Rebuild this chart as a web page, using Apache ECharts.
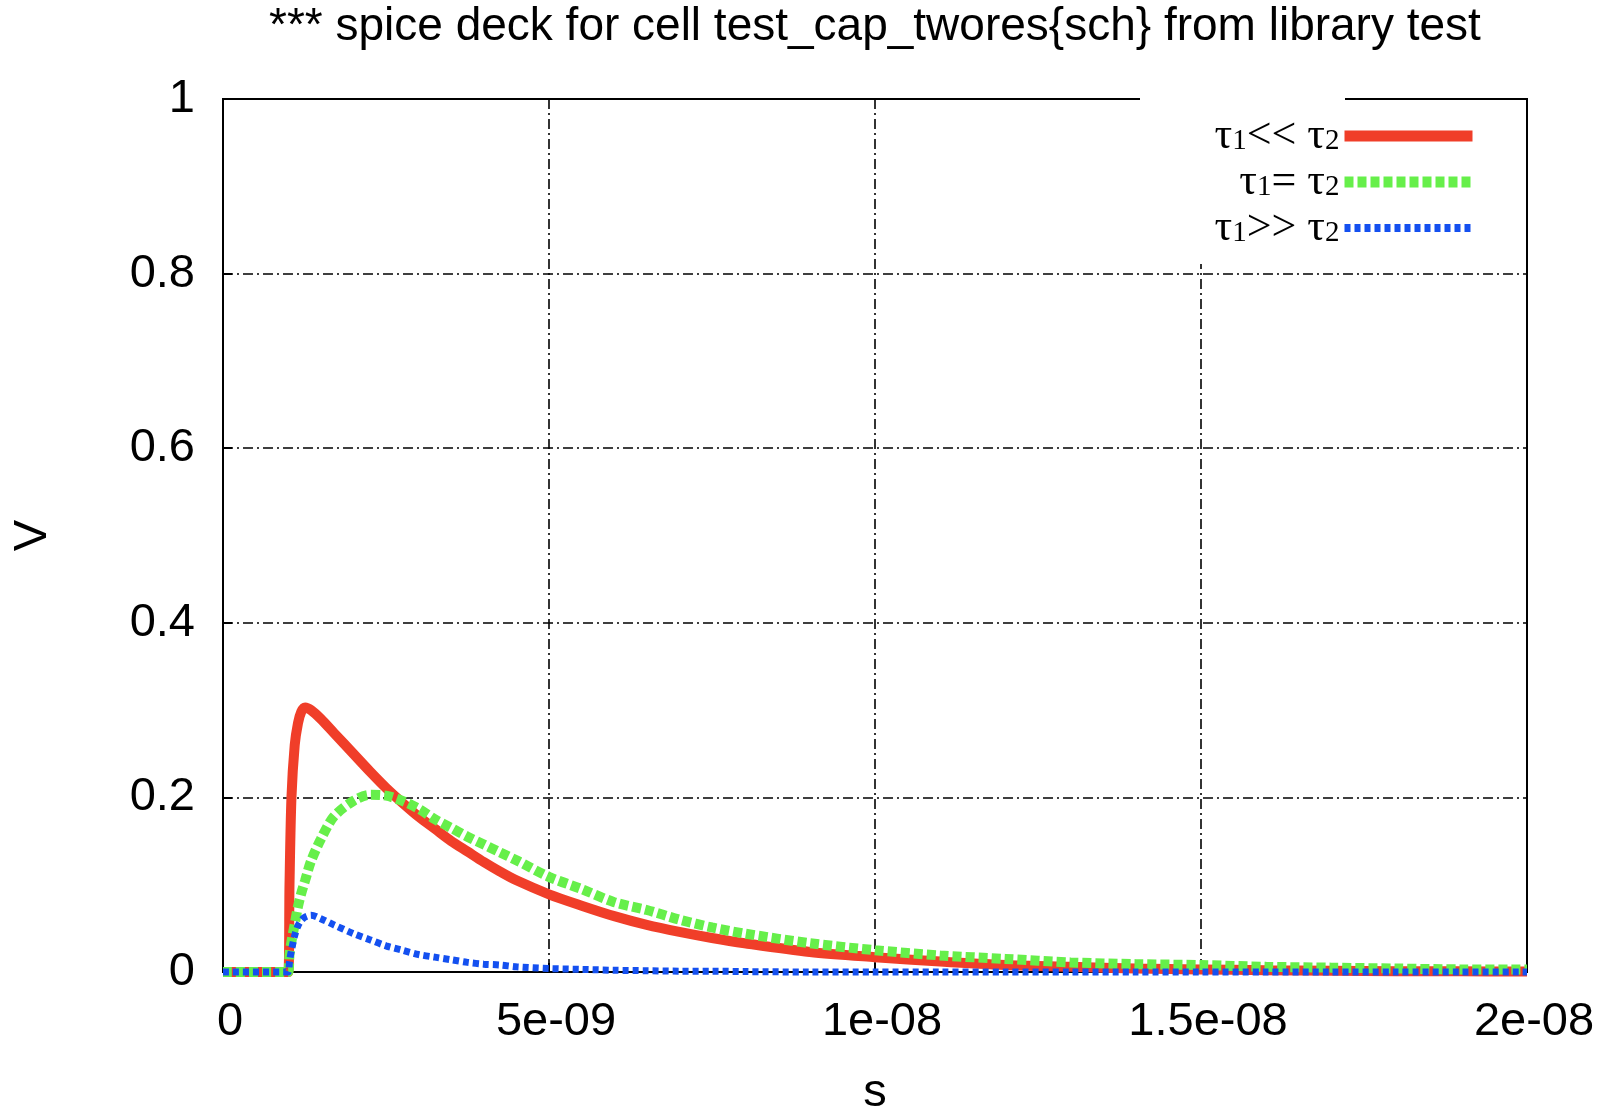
<!DOCTYPE html>
<html>
<head>
<meta charset="utf-8">
<title>spice deck</title>
<script src="https://cdn.jsdelivr.net/npm/echarts@6/dist/echarts.min.js"></script>
<style>
  html, body { margin: 0; padding: 0; background: #fff; }
  #chart { width: 1604px; height: 1106px; }
</style>
</head>
<body>
<div id="chart"></div>
<script>
// time samples in ns (converted to seconds below)
var timeNs = [0, 0.95, 1.0, 1.02, 1.05, 1.1, 1.15, 1.2, 1.26, 1.35, 1.5, 1.7, 2.0, 2.25, 2.5, 2.75,
    3.0, 3.25, 3.5, 3.75, 4.0, 4.25, 4.5, 5.0, 5.5, 6.0, 6.5, 7.0, 7.5, 8.0, 9.0, 10,
    11, 12, 13, 14, 15, 16, 17, 18, 19, 20];

// tau1 << tau2
var vFast = [0, 0, 0, 0.1, 0.2, 0.26, 0.285, 0.298, 0.303, 0.3, 0.29, 0.274, 0.25, 0.23, 0.211, 0.194,
    0.178, 0.164, 0.15, 0.138, 0.126, 0.115, 0.105, 0.089, 0.076, 0.064, 0.054, 0.046, 0.039, 0.033, 0.023, 0.017,
    0.012, 0.008, 0.006, 0.004, 0.003, 0.002, 0.0015, 0.001, 0.0008, 0.0006];
// tau1 = tau2
var vEqual = [0, 0, 0, 0.02, 0.035, 0.055, 0.075, 0.09, 0.105, 0.127, 0.152, 0.178, 0.196, 0.203, 0.202, 0.196,
    0.187, 0.175, 0.165, 0.155, 0.146, 0.137, 0.128, 0.109, 0.095, 0.08, 0.071, 0.06, 0.051, 0.044, 0.033, 0.025,
    0.019, 0.015, 0.011, 0.009, 0.008, 0.006, 0.005, 0.004, 0.003, 0.003];
// tau1 >> tau2
var vSlow = [0, 0, 0, 0.012, 0.025, 0.042, 0.053, 0.059, 0.063, 0.065, 0.061, 0.054, 0.044, 0.037, 0.03, 0.025,
    0.02, 0.017, 0.014, 0.011, 0.009, 0.008, 0.006, 0.004, 0.003, 0.002, 0.0015, 0.001, 0.001, 0.0005, 0, 0,
    0, 0, 0, 0, 0, 0, 0, 0, 0, 0];

var seriesNames = ['τ1<< τ2', 'τ1= τ2', 'τ1>> τ2'];
var seriesColors = ['#f03e29', '#66ef4a', '#1450f0'];
var xTickLabels = ['0', '5e-09', '1e-08', '1.5e-08', '2e-08'];
var yTickLabels = ['0', '0.2', '0.4', '0.6', '0.8', '1'];

var lineWidths = [10, 10, 7];
var lineDashes = ['solid', [9, 4], [6, 4]];

function pairs(vals) {
    return timeNs.map(function(t, i) {
        return [t * 1e-9, vals[i]];
    });
}

function makeSeries(i, vals) {
    return {
        name: seriesNames[i],
        type: 'line',
        data: pairs(vals),
        showSymbol: false,
        symbol: 'none',
        clip: false,
        smooth: 0.3,
        color: seriesColors[i],
        lineStyle: { color: seriesColors[i], width: lineWidths[i], type: lineDashes[i], cap: 'butt' }
    };
}

var chart = echarts.init(document.getElementById('chart'));

var nameFont = {
    fontFamily: 'Liberation Sans',
    fontSize: 47,
    color: '#000'
};
var gridLine = { color: '#000', width: 1.6, type: [10, 4, 2, 4] };

var option = {
    backgroundColor: '#fff',
    animation: false,
    title: {
        text: '*** spice deck for cell test_cap_twores{sch} from library test',
        left: 269,
        top: 4,
        padding: 0,
        textStyle: {
            fontFamily: 'Liberation Sans',
            fontSize: 46,
            fontWeight: 'normal',
            color: '#000'
        }
    },
    grid: {
        left: 223,
        right: 77,
        top: 99,
        bottom: 134,
        show: true,
        borderColor: '#000',
        borderWidth: 2,
        outerBoundsMode: 'none'
    },
    legend: {
        orient: 'vertical',
        right: 126,
        top: 114,
        align: 'right',
        itemWidth: 128,
        itemHeight: 14,
        itemGap: 2,
        padding: 0,
        z: 10,
        data: seriesNames.map(function(n, i) {
            return {
                name: n,
                itemStyle: { opacity: 0 },
                lineStyle: { width: lineWidths[i] + 1, type: lineDashes[i], cap: 'butt' }
            };
        }),
        formatter: function(name) {
            return name.replace(/τ(\d)/g, '{t|τ}{s|$1}');
        },
        textStyle: {
            fontFamily: 'Liberation Serif',
            fontSize: 44,
            lineHeight: 40,
            color: '#000',
            rich: {
                t: { fontFamily: 'Liberation Serif', fontSize: 44, lineHeight: 40, color: '#000' },
                s: { fontFamily: 'Liberation Serif', fontSize: 29, lineHeight: 8, verticalAlign: 'bottom', color: '#000' }
            }
        }
    },
    graphic: [{
        // white patch behind the legend text, as in the original
        type: 'rect',
        z: 5,
        shape: { x: 1140, y: 95, width: 205, height: 169 },
        style: { fill: '#fff' }
    }],
    xAxis: {
        type: 'value',
        min: 0,
        max: 2e-8,
        interval: 5e-9,
        name: 's',
        nameLocation: 'middle',
        nameGap: 98,
        nameTextStyle: nameFont,
        axisLine: { show: true, lineStyle: { color: '#000', width: 2 } },
        axisTick: { show: true, inside: true, length: 9, lineStyle: { color: '#000', width: 2 } },
        axisLabel: {
            margin: 27,
            padding: [0, 0, 0, 14],
            fontFamily: 'Liberation Sans',
            fontSize: 47,
            color: '#000',
            formatter: function(v) {
                return xTickLabels[Math.round(v / 5e-9)];
            }
        },
        splitLine: { show: true, lineStyle: gridLine }
    },
    yAxis: {
        type: 'value',
        min: 0,
        max: 1,
        interval: 0.2,
        name: 'V',
        nameLocation: 'middle',
        nameRotate: 90,
        nameGap: 166,
        nameTextStyle: nameFont,
        axisLine: { show: true, lineStyle: { color: '#000', width: 2 } },
        axisTick: { show: true, inside: true, length: 9, lineStyle: { color: '#000', width: 2 } },
        axisLabel: {
            margin: 28,
            fontFamily: 'Liberation Sans',
            fontSize: 47,
            color: '#000',
            formatter: function(v) {
                return yTickLabels[Math.round(v / 0.2)];
            }
        },
        splitLine: { show: true, lineStyle: gridLine }
    },
    series: [
        makeSeries(0, vFast),
        makeSeries(1, vEqual),
        makeSeries(2, vSlow)
    ]
};

chart.setOption(option);
</script>
</body>
</html>
